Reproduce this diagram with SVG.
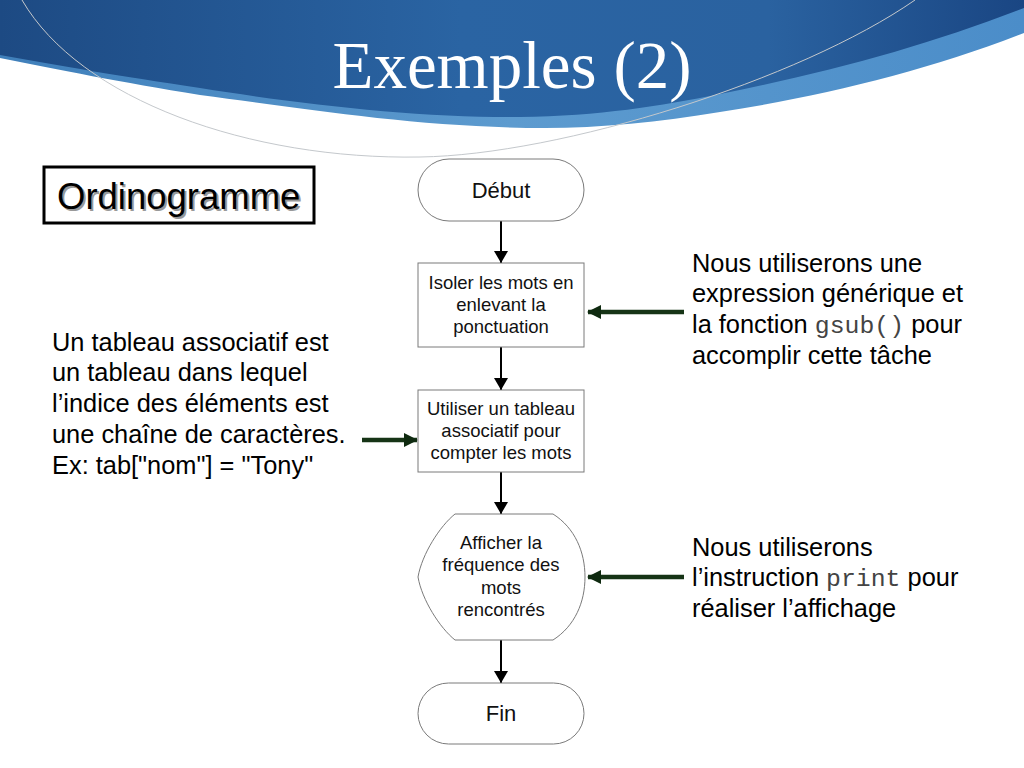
<svg xmlns="http://www.w3.org/2000/svg" width="1024" height="768" viewBox="0 0 1024 768">
<defs>
<linearGradient id="blue" x1="0" y1="0" x2="1" y2="0">
<stop offset="0" stop-color="#1d4a83"/>
<stop offset="0.45" stop-color="#2a64a3"/>
<stop offset="0.75" stop-color="#2a62a0"/>
<stop offset="1" stop-color="#1a4683"/>
</linearGradient>
<linearGradient id="band" x1="0" y1="0" x2="1" y2="0">
<stop offset="0" stop-color="#3f7fba"/>
<stop offset="0.5" stop-color="#5d9bcf"/>
<stop offset="1" stop-color="#4b8dc9"/>
</linearGradient>
<marker id="ah" markerWidth="12" markerHeight="14" refX="12" refY="7" orient="auto" markerUnits="userSpaceOnUse">
<path d="M0,0 L12,7 L0,14 Z" fill="#000"/>
</marker>
<marker id="gh" markerWidth="14" markerHeight="14" refX="13" refY="7" orient="auto" markerUnits="userSpaceOnUse">
<path d="M0,0 L14,7 L0,14 Z" fill="#0f2a10"/>
</marker>
</defs>
<style>
.node{fill:#fff;stroke:#7a7a7a;stroke-width:1}
.nt{font-family:"Liberation Sans",Arial,sans-serif;font-size:18.5px;fill:#111;text-anchor:middle}
.nt2{font-family:"Liberation Sans",Arial,sans-serif;font-size:22px;fill:#111;text-anchor:middle}
.big{font-family:"Liberation Sans",Arial,sans-serif;font-size:25.4px;fill:#000}
.mono{font-family:"Liberation Mono","Courier New",monospace;font-size:24.8px;fill:#444}
.flow{stroke:#000;stroke-width:2;fill:none;marker-end:url(#ah)}
.side{stroke:#163416;stroke-width:4.5;fill:none;marker-end:url(#gh)}
</style>
<rect width="1024" height="768" fill="#fff"/>
<g id="header">
<path d="M0,0 H1024 V33 C 930,70 820,97 720,112 C 660,122 600,128 545,128 C 420,128 300,108 200,95 C 120,82 60,70 0,58 Z" fill="url(#band)"/>
<path d="M0,0 H1024 V8 C 930,45 830,72 720,94 C 660,106 600,116 520,117 C 420,118 300,104 200,88 C 120,76 60,66 0,55 Z" fill="url(#blue)"/>
<path d="M22,0 C 80,100 250,160 420,157 C 560,155 800,80 915,0" fill="none" stroke="#c4c8cc" stroke-width="1"/>
<text x="512" y="88" text-anchor="middle" font-family="Liberation Serif,'Times New Roman',serif" font-size="67" fill="#fff">Exemples (2)</text>
</g>
<g id="title-box">
<rect x="44" y="167" width="270" height="56" fill="#fff" stroke="#000" stroke-width="3"/>
<text x="59" y="211" font-family="Liberation Sans,Arial,sans-serif" font-size="36.5" fill="#999">Ordinogramme</text>
<text x="57" y="209" font-family="Liberation Sans,Arial,sans-serif" font-size="36.5" fill="#000">Ordinogramme</text>
</g>
<g id="connectors">
<line class="flow" x1="501" y1="221" x2="501" y2="263"/>
<line class="flow" x1="501" y1="347" x2="501" y2="390"/>
<line class="flow" x1="501" y1="472" x2="501" y2="514"/>
<line class="flow" x1="501" y1="640" x2="501" y2="683"/>
<line class="side" x1="684" y1="312" x2="588" y2="312"/>
<line class="side" x1="362" y1="440" x2="417" y2="440"/>
<line class="side" x1="684" y1="577" x2="588" y2="577"/>
</g>
<g id="debut">
<rect class="node" x="418" y="159" width="166" height="62" rx="31" ry="31"/>
<text class="nt2" x="501" y="198">Début</text>
</g>
<g id="isoler">
<rect class="node" x="418" y="263" width="166" height="84"/>
<text class="nt" x="501" y="289">Isoler les mots en</text>
<text class="nt" x="501" y="311">enlevant la</text>
<text class="nt" x="501" y="333">ponctuation</text>
</g>
<g id="utiliser">
<rect class="node" x="418" y="390" width="166" height="82"/>
<text class="nt" x="501" y="415">Utiliser un tableau</text>
<text class="nt" x="501" y="437">associatif pour</text>
<text class="nt" x="501" y="459">compter les mots</text>
</g>
<g id="afficher">
<path class="node" d="M455,514 L553,514 C575,528 585,552 585,577 C585,602 575,626 553,640 L455,640 C440,628 422,600 418,577 C422,554 440,526 455,514 Z"/>
<text class="nt" x="501" y="549">Afficher la</text>
<text class="nt" x="501" y="571">fréquence des</text>
<text class="nt" x="501" y="594">mots</text>
<text class="nt" x="501" y="616">rencontrés</text>
</g>
<g id="fin">
<rect class="node" x="418" y="683" width="166" height="61" rx="30.5" ry="30.5"/>
<text class="nt2" x="501" y="721">Fin</text>
</g>
<g id="note-gsub">
<text class="big" x="692" y="272">Nous utiliserons une</text>
<text class="big" x="692" y="302">expression générique et</text>
<text class="big" x="692" y="333">la fonction <tspan class="mono">gsub()</tspan> pour</text>
<text class="big" x="692" y="364">accomplir cette tâche</text>
</g>
<g id="note-tableau">
<text class="big" x="52" y="351">Un tableau associatif est</text>
<text class="big" x="52" y="381">un tableau dans lequel</text>
<text class="big" x="52" y="412">l’indice des éléments est</text>
<text class="big" x="52" y="443">une chaîne de caractères.</text>
<text class="big" x="52" y="474">Ex: tab["nom"] = "Tony"</text>
</g>
<g id="note-print">
<text class="big" x="692" y="556">Nous utiliserons</text>
<text class="big" x="692" y="586">l’instruction <tspan class="mono">print</tspan> pour</text>
<text class="big" x="692" y="617">réaliser l’affichage</text>
</g>
</svg>
